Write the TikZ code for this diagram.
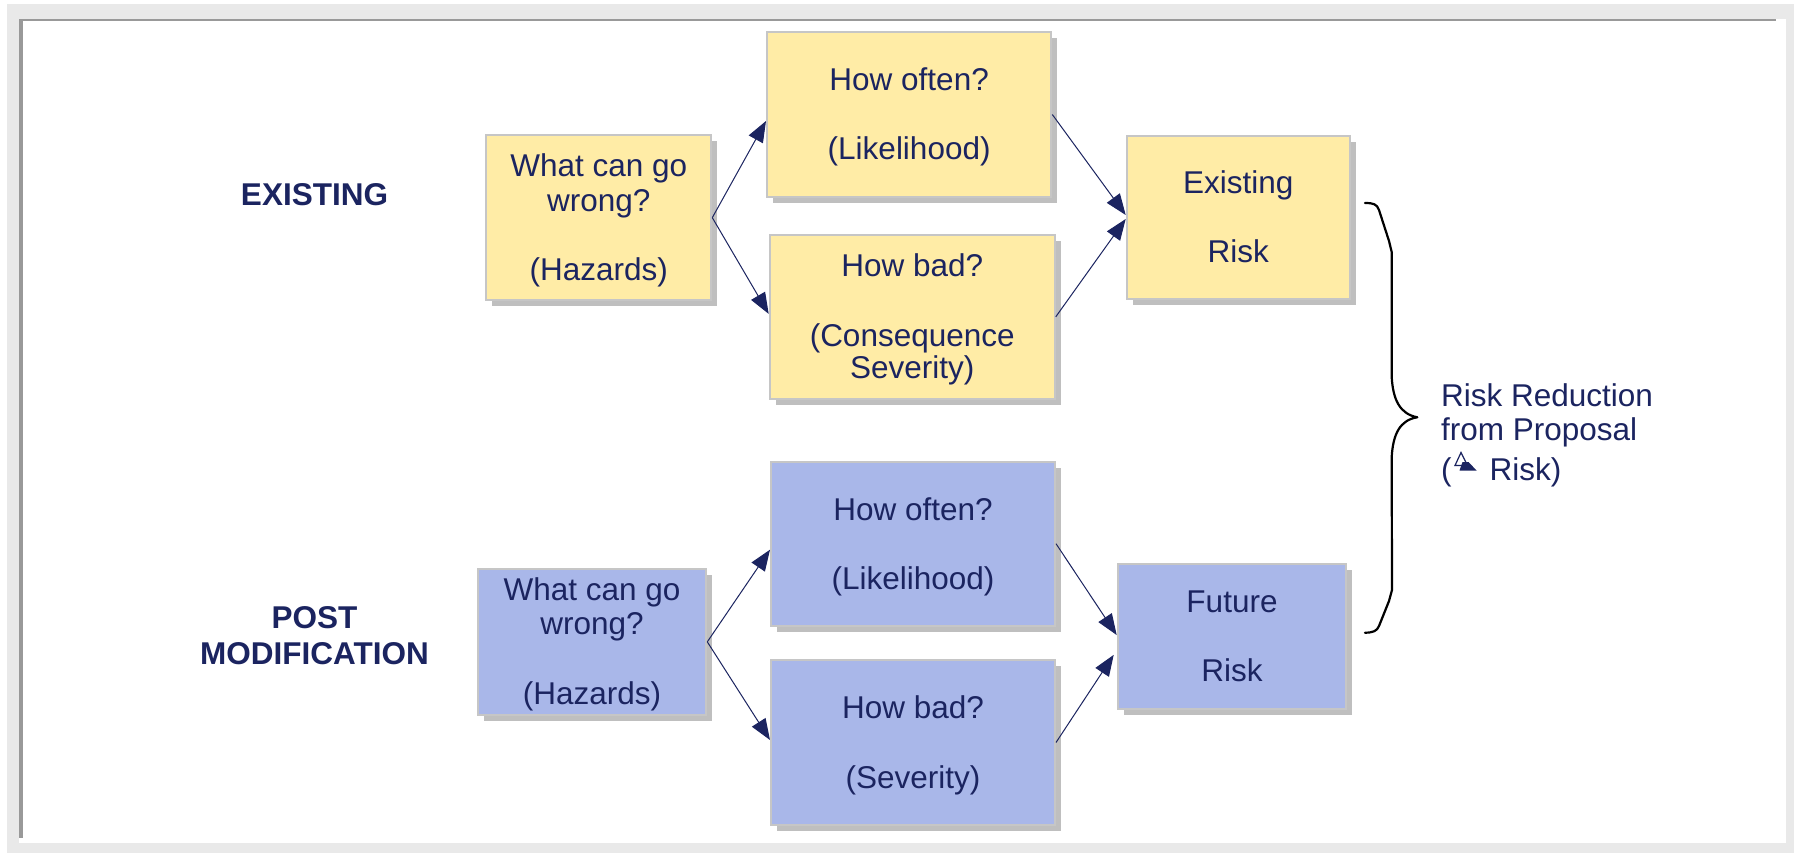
\documentclass[tikz,border=0pt]{standalone}
\usepackage{fontspec}
\setmainfont{Liberation Sans}
\usetikzlibrary{arrows.meta,calc,shadows}

\definecolor{ink}{RGB}{27,36,96}
\definecolor{sand}{RGB}{255,236,166}
\definecolor{lav}{RGB}{169,183,233}
\definecolor{rim}{RGB}{198,198,198}
\definecolor{shd}{RGB}{191,191,191}
\definecolor{pagegray}{RGB}{233,233,233}
\definecolor{edgegray}{RGB}{153,153,153}

\tikzset{
  card/.style={draw=rim, line width=2pt, inner sep=0pt,
    drop shadow={shadow xshift=6pt, shadow yshift=-6pt, fill=shd, opacity=1}},
  nowcard/.style={card, fill=sand},
  newcard/.style={card, fill=lav},
  flow/.style={draw=ink, line width=1pt, -{Triangle[length=21pt,width=16pt]}},
  words/.style={text=ink, inner sep=0pt, anchor=base,
    font=\fontsize{31.5}{34.5}\selectfont},
  head/.style={text=ink, inner sep=0pt, anchor=base,
    font=\fontsize{31.5}{36}\selectfont\bfseries},
}

\begin{document}
\begin{tikzpicture}[x=1pt,y=-1pt]
\useasboundingbox (0,0) rectangle (1794,853);

% page frame
\fill[white] (0,0) rectangle (1794,853);
\fill[pagegray] (7,4) rectangle (1794,853);
\fill[white] (19,19) rectangle (1786,843);
\fill[edgegray] (19,19) rectangle (1776,21.5);
\fill[edgegray] (19,19) rectangle (23,838);

% row labels
\node[head] (lab-now) at (314.5,205.8) {EXISTING};
\node[head] (lab-new) at (314.5,628.5)
  {\parbox[t]{300pt}{\centering POST\\MODIFICATION}};

% existing situation
\node[nowcard, minimum width=225pt,   minimum height=164.7pt] (haz1)   at (598.8,217.65) {};
\node[nowcard, minimum width=284.3pt, minimum height=165.6pt] (often1) at (909.15,114.5) {};
\node[nowcard, minimum width=285pt,   minimum height=163.2pt] (bad1)   at (912.2,316.9) {};
\node[nowcard, minimum width=223.3pt, minimum height=163pt]   (risk1)  at (1238.35,217.5) {};

% after the modification
\node[newcard, minimum width=228.6pt, minimum height=146.3pt] (haz2)   at (592,641.85) {};
\node[newcard, minimum width=284pt,   minimum height=164pt]   (often2) at (913,543.7) {};
\node[newcard, minimum width=284pt,   minimum height=165pt]   (bad2)   at (913,742.5) {};
\node[newcard, minimum width=228.6pt, minimum height=145.3pt] (risk2)  at (1232,636.35) {};

% connectors
\draw[flow] (haz1.east) -- ($(often1.west)+(0,6.5)$);
\draw[flow] (haz1.east) -- ($(bad1.west)+(0,-3)$);
\draw[flow] (often1.east) -- ($(risk1.west)+(0,-2.5)$);
\draw[flow] (bad1.east) -- ($(risk1.west)+(0,1.5)$);

\draw[flow] (haz2.east) -- ($(often2.west)+(0,6)$);
\draw[flow] (haz2.east) -- ($(bad2.west)+(0,-2.5)$);
\draw[flow] (often2.east) -- ($(risk2.west)+(0,-1.3)$);
\draw[flow] (bad2.east) -- ($(risk2.west)+(-3,18.5)$);

% card texts
\node[words] (w-haz1) at (598.8,176.7)
  {\parbox[t]{220pt}{\centering What can go\\wrong?\\[34.5pt](Hazards)}};
\node[words] (w-often1) at (909.15,90.7)
  {\parbox[t]{280pt}{\centering How often?\\[34.8pt](Likelihood)}};
\node[words] (w-bad1) at (912.2,276.7)
  {\parbox[t]{280pt}{\centering How bad?\\[34.8pt](Consequence\\[-2.2pt]Severity)}};
\node[words] (w-risk1) at (1238.35,194)
  {\parbox[t]{220pt}{\centering Existing\\[33.8pt]Risk}};

\node[words] (w-haz2) at (592,600)
  {\parbox[t]{224pt}{\centering What can go\\wrong?\\[35.5pt](Hazards)}};
\node[words] (w-often2) at (913,520)
  {\parbox[t]{280pt}{\centering How often?\\[34.8pt](Likelihood)}};
\node[words] (w-bad2) at (913,718.3)
  {\parbox[t]{280pt}{\centering How bad?\\[35.5pt](Severity)}};
\node[words] (w-risk2) at (1232,612.7)
  {\parbox[t]{224pt}{\centering Future\\[34.5pt]Risk}};

% brace spanning both risk levels
\draw[black, line width=2.2pt, line join=round, line cap=round]
  (1365,203) .. controls (1373,203) and (1377,204) .. (1379,210)
  -- (1389,241) .. controls (1391,246) .. (1391.7,252)
  -- (1391.7,377) .. controls (1393,400) and (1400,414) .. (1417.3,417.3)
  .. controls (1400,420) and (1393,434) .. (1391.7,457)
  -- (1392,590) .. controls (1391,596) .. (1389,601)
  -- (1379,626) .. controls (1377,631) and (1373,632.7) .. (1365,632.7);

% brace caption
\node[words, anchor=base west] (gain) at (1441,406)
  {\parbox[t]{320pt}{\raggedright Risk Reduction\\from Proposal\\[5.5pt](\makebox[38pt]{}Risk)}};

% delta mark inside the caption
\draw[ink, line width=1.2pt, line join=miter] (1461,452.5) -- (1455,465.5) -- (1467.5,465.5) -- cycle;
\fill[ink] (1462.5,462) -- (1468.5,462) -- (1476.5,470.5) -- (1459.5,470.5) -- cycle;

\end{tikzpicture}
\end{document}
